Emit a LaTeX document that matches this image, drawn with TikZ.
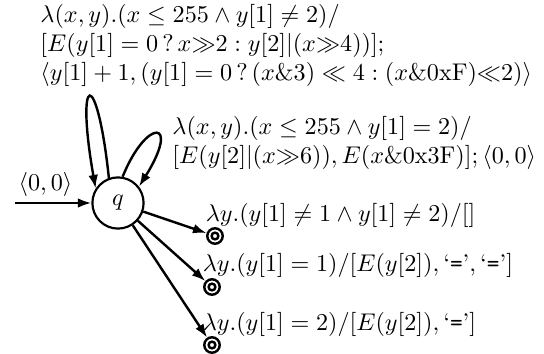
\documentclass[tikz,border=0pt]{standalone}
\usepackage{amsmath,amssymb}
\usetikzlibrary{arrows.meta, positioning}
\newcommand{\lit}[1]{\text{`\texttt{#1}'}}

\begin{document}
\begin{tikzpicture}[
  x=0.414pt, y=0.414pt,
  state/.style={circle, draw, line width=0.9pt, minimum size=21.2pt, inner sep=0pt},
  fin/.style={circle, draw, line width=1pt, minimum size=6.4pt, inner sep=0pt,
              path picture={\draw[line width=1pt] (path picture bounding box.center) circle (1.4pt);}},
  lbl/.style={align=left, inner sep=0pt},
  trans/.style={->, line width=1pt},
  >={Latex[length=5.6pt, width=4pt]}
]
\useasboundingbox (-118,203) rectangle (426,-151);
\node[state] (q) {$q$};
\coordinate (start) at (-103,0);
\node[fin] (f1) at (97,-33) {};
\node[fin] (f2) at (94,-84) {};
\node[fin] (f3) at (94,-142) {};
% initial arrow
\draw[trans] (start) -- node[above, pos=0.4, inner sep=2pt] (init) {$\langle 0,0\rangle$} (q);
% self loops
\draw[trans] (q.110) .. controls +(96:113) and +(100:119) .. (q.147);
\draw[trans] (q.80) .. controls +(68:64) and +(58:80) .. (q.38);
\node[lbl, anchor=north west] (top) at (-78,199)
  {$\lambda(x,y).(x \le 255 \wedge y[1] \neq 2)/$\\
   $[E(y[1] = 0\,?\,x{\gg}2 : y[2]|(x{\gg}4))];$\\
   $\langle y[1]+1, (y[1]=0\,?\,(x\&3) \ll 4 : (x\&\mathrm{0xF}){\ll}2)\rangle$};
\node[lbl, anchor=north west] (loop) at (54,87)
  {$\lambda(x,y).(x \le 255 \wedge y[1] = 2)/$\\
   $[E(y[2]|(x{\gg}6)), E(x\&\mathrm{0x3F})]; \langle 0,0\rangle$};
% final transitions
\draw[trans] (q) -- (f1);
\draw[trans] (q) -- (f2);
\draw[trans] (q) -- (f3);
\node[lbl, anchor=south west, xshift=-1.4pt, yshift=0.6pt] (l1) at (f1.north west)
  {$\lambda y.(y[1] \neq 1 \wedge y[1] \neq 2)/[]$};
\node[lbl, anchor=south west, xshift=-1.4pt, yshift=1.2pt] (l2) at (f2.north west)
  {$\lambda y.(y[1] = 1)/[E(y[2]), \lit{=}, \lit{=}]$};
\node[lbl, anchor=south west, xshift=-1.4pt, yshift=0.8pt] (l3) at (f3.north west)
  {$\lambda y.(y[1] = 2)/[E(y[2]), \lit{=}]$};
\end{tikzpicture}
\end{document}
